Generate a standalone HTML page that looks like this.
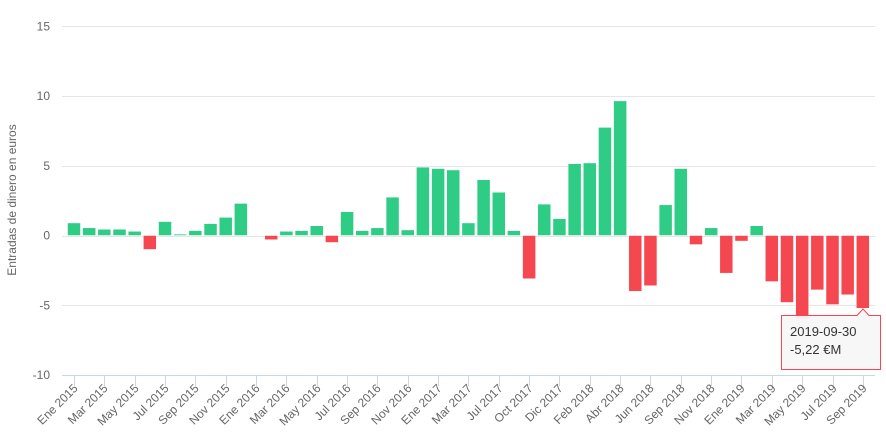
<!DOCTYPE html>
<html><head><meta charset="utf-8"><style>
body{margin:0;background:#fff;}
svg{display:block;font-family:"Liberation Sans",sans-serif;}
</style></head><body>
<svg id="c" width="886" height="442" xmlns="http://www.w3.org/2000/svg">
<g id="grid" stroke="#e6e6e6" stroke-width="1"></g>
<g id="ylab" font-size="12" fill="#666" text-anchor="end"></g>
<text transform="translate(16,200) rotate(-90)" text-anchor="middle" font-size="12" fill="#666">Entradas de dinero en euros</text>
<g id="bars"></g>
<line x1="62" y1="375.5" x2="875" y2="375.5" stroke="#ccd6eb"/>
<g id="xt" stroke="#ccd6eb"></g>
<g id="xl" font-size="12" fill="#666" text-anchor="end"></g>
<g>
<path d="M781.5,315.5 H857 L863,309 L869,315.5 H880.5 V369.5 H781.5 Z" fill="#f7f7f7" fill-opacity="0.95" stroke="#f5474f" stroke-width="1"/>
<text x="790" y="336" font-size="13" fill="#333">2019-09-30</text>
<text x="790" y="354" font-size="13" fill="#333">-5,22 €M</text>
</g>
</svg>
<script>
var ns="http://www.w3.org/2000/svg";
function el(t,a,p,txt){var e=document.createElementNS(ns,t);for(var k in a)e.setAttribute(k,a[k]);if(txt)e.textContent=txt;document.getElementById(p).appendChild(e);return e;}
function Y(v){return 235.5-v*13.95;}
[15,10,5,0,-5,-10].forEach(function(v){
 if(v!=-10)el('line',{x1:62,x2:875,y1:Math.round(Y(v))+0.5,y2:Math.round(Y(v))+0.5},'grid');
 el('text',{x:50,y:Y(v)+4},'ylab',String(v));
});
var vals=[0.9,0.55,0.45,0.45,0.3,-1.0,1.0,0.1,0.35,0.85,1.3,2.3,0,-0.3,0.3,0.35,0.7,-0.5,1.7,0.35,0.55,2.75,0.4,4.9,4.8,4.7,0.9,4.0,3.1,0.35,-3.1,2.25,1.2,5.15,5.2,7.75,9.65,-4.0,-3.6,2.2,4.8,-0.65,0.55,-2.7,-0.4,0.7,-3.3,-4.8,-6.0,-3.9,-4.95,-4.25,-5.22];
vals.forEach(function(v,i){
 if(v==0)return;
 var cx=74+i*15.17,y0=Y(0),y1=Y(v);
 el('rect',{x:cx-6.5,y:Math.min(y0,y1),width:13,height:Math.max(1,Math.abs(y1-y0)),fill:v>0?'#2ecc85':'#f5474f',stroke:'#fff','stroke-width':0.5},'bars');
});
var labs=["Ene 2015","Mar 2015","May 2015","Jul 2015","Sep 2015","Nov 2015","Ene 2016","Mar 2016","May 2016","Jul 2016","Sep 2016","Nov 2016","Ene 2017","Mar 2017","Jul 2017","Oct 2017","Dic 2017","Feb 2018","Abr 2018","Jun 2018","Sep 2018","Nov 2018","Ene 2019","Mar 2019","May 2019","Jul 2019","Sep 2019"];
labs.forEach(function(l,i){
 var x=Math.round(74+i*30.34)+0.5;
 el('line',{x1:x,x2:x,y1:376,y2:386},'xt');
 el('text',{x:x+4,y:389,transform:'rotate(-45 '+(x+4)+' 389)'},'xl',l);
});
</script>
</body></html>
